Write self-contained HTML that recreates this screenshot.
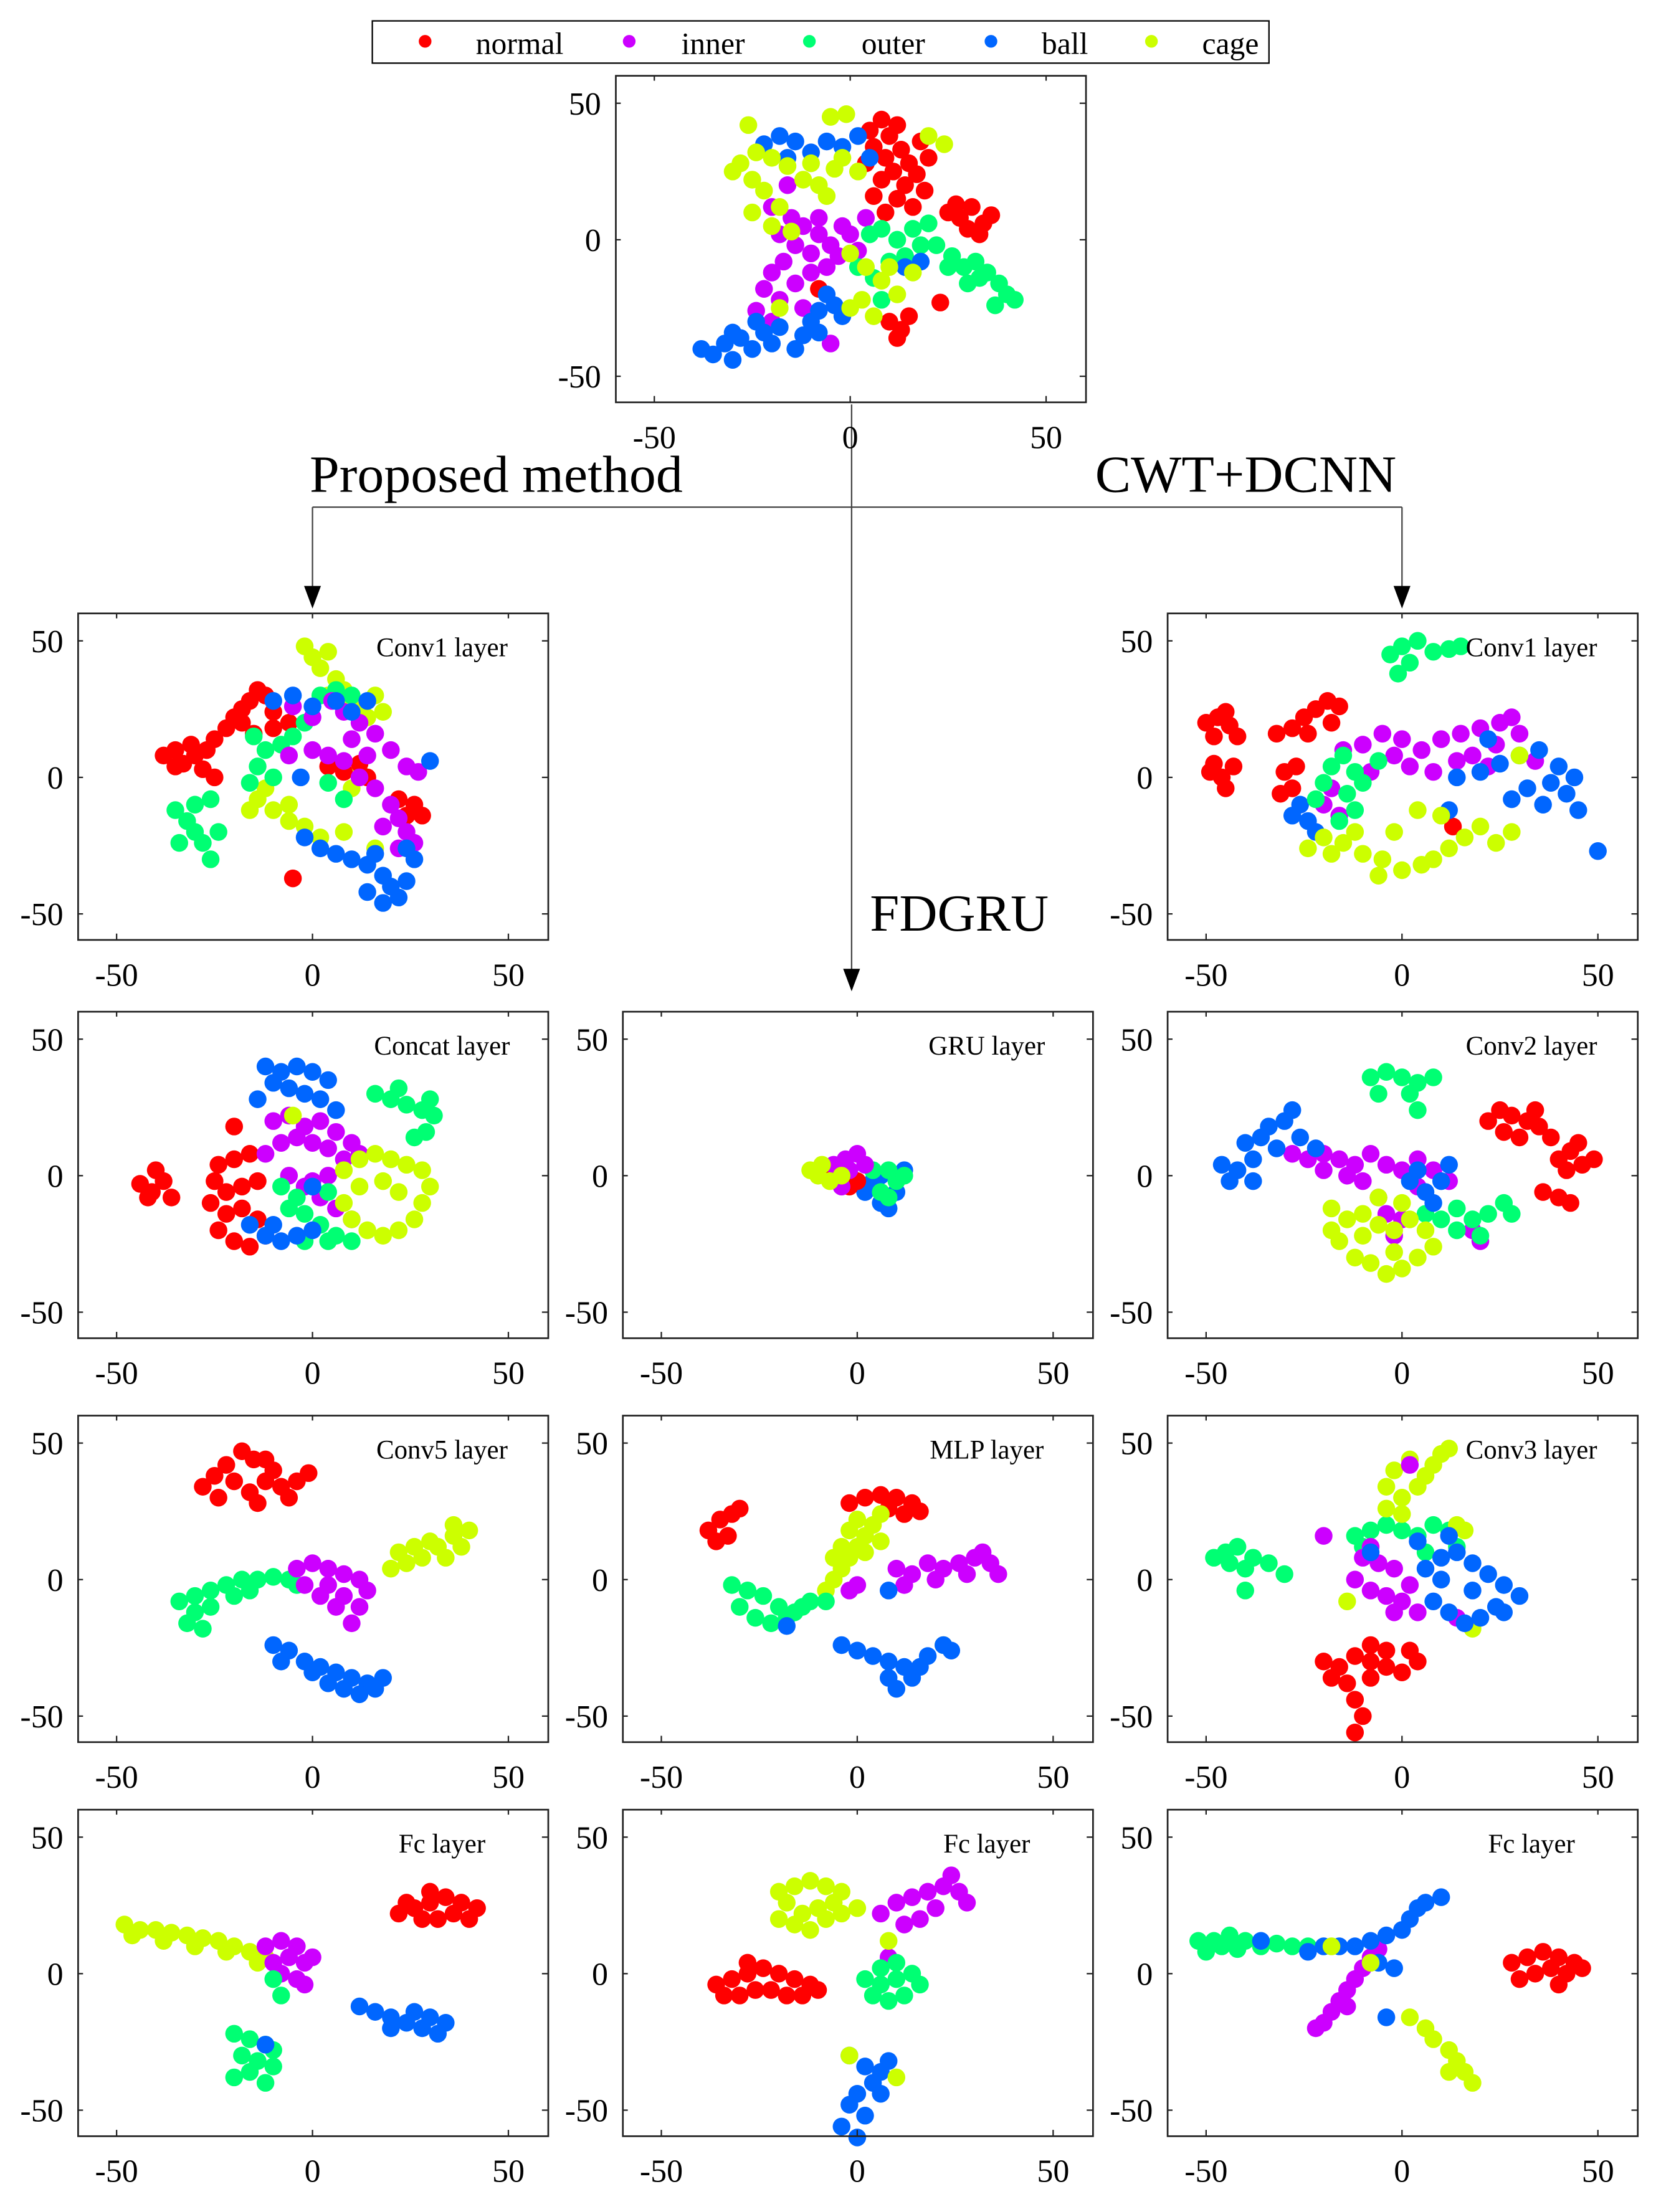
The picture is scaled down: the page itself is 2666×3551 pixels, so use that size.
<!DOCTYPE html>
<html><head><meta charset="utf-8"><style>
html,body{margin:0;padding:0;background:#fff;}
svg{display:block;}
text{font-family:"Liberation Serif","Times New Roman",serif;fill:#000;}
</style></head><body>
<svg id="fig" xmlns="http://www.w3.org/2000/svg" width="2666" height="3551" viewBox="0 0 1180 1571">
<rect x="0" y="0" width="1180" height="1571" fill="#fff"/>
<g>
<rect x="264.5" y="14.5" width="637" height="30" fill="#fff" stroke="#000" stroke-width="1"/>
<g><circle cx="302" cy="29" r="4.5" fill="#ff0000"/><text x="338" y="38" font-size="22">normal</text></g>
<g><circle cx="447" cy="29" r="4.5" fill="#cc00ff"/><text x="484" y="38" font-size="22">inner</text></g>
<g><circle cx="575" cy="29" r="4.5" fill="#00ff73"/><text x="612" y="38" font-size="22">outer</text></g>
<g><circle cx="704" cy="29" r="4.5" fill="#0066ff"/><text x="740" y="38" font-size="22">ball</text></g>
<g><circle cx="818" cy="29" r="4.5" fill="#ccff00"/><text x="854" y="38" font-size="22">cage</text></g>
</g>
<g stroke="#444" stroke-width="1" fill="none">
<line x1="605" y1="287" x2="605" y2="690"/>
<line x1="222" y1="360" x2="996" y2="360"/>
<line x1="222" y1="360" x2="222" y2="418"/>
<line x1="996" y1="360" x2="996" y2="418"/>
</g>
<g fill="#000">
<polygon points="216,416 228,416 222,432"/>
<polygon points="990,416 1002,416 996,432"/>
<polygon points="599,688 611,688 605,704"/>
</g>
<text x="220" y="349" font-size="37" textLength="265" lengthAdjust="spacingAndGlyphs">Proposed method</text>
<text x="778" y="349" font-size="37" textLength="214" lengthAdjust="spacingAndGlyphs">CWT+DCNN</text>
<text x="618" y="661" font-size="37" textLength="127" lengthAdjust="spacingAndGlyphs">FDGRU</text>
<g id="panels"></g>
</svg>
<script>
// ---- data (t-SNE coordinates, flat x,y pairs) ----
const top_normal=[5,40,8,44,10,38,12,42,6,34,9,30,13,33,15,28,11,25,8,22,14,20,17,24,19,18,12,15,16,12,9,10,6,16,20,30,18,36,4,28,25,10,28,8,31,12,34,6,36,9,30,4,33,2,27,13,10,-30,13,-33,15,-28,12,-36,23,-23,-8,-18];
const top_inner=[-20,12,-15,8,-12,5,-8,2,-5,-2,-10,-5,-14,-2,-17,-8,-20,-12,-22,-18,-18,-22,-14,-16,-10,-12,-6,-10,-3,-6,-18,2,-24,-26,-20,-30,-12,-25,-5,-38,-2,5,0,2,-8,8,2,-4,-16,20,4,8];
const top_outer=[5,2,8,4,12,0,16,4,20,6,18,-2,14,-6,10,-8,26,-6,29,-10,32,-8,35,-12,38,-16,40,-20,42,-22,37,-24,33,-14,30,-16,25,-10,22,-2,6,-14,2,-10,8,-22];
const top_ball=[-38,-40,-35,-42,-32,-38,-30,-44,-28,-36,-25,-40,-22,-34,-20,-38,-18,-32,-24,-30,-30,-34,-12,-35,-10,-30,-8,-26,-6,-20,-4,-24,-2,-28,-8,-34,-14,-40,-22,35,-18,38,-14,36,-10,32,-6,36,-2,34,2,38,5,30,-16,30,18,-8,14,-10];
const top_cage=[-28,28,-24,32,-20,30,-16,27,-12,22,-8,20,-4,26,-2,30,-10,28,-25,22,-30,25,-22,18,-18,12,-6,16,-26,42,-5,45,-1,46,2,25,-15,3,-20,5,-25,10,0,-5,4,-10,8,-15,12,-20,3,-22,0,-25,6,-28,10,-10,16,-12,-18,-25,24,35,20,38];

const pc1_normal=[-38,8,-35,10,-33,5,-30,8,-28,3,-35,4,-31,12,-27,10,-25,14,-22,18,-20,22,-18,25,-16,28,-14,32,-12,30,-18,20,-15,16,-10,18,-10,24,-6,20,4,4,8,2,12,5,14,0,22,-8,26,-10,28,-14,24,-14,-5,-37,-25,0];
const pc1_inner=[-5,26,0,22,5,28,8,24,12,20,16,16,20,10,24,4,27,2,0,10,4,8,8,6,12,0,16,-4,20,-10,22,-15,24,-20,26,-24,22,-26,18,-18,-6,8,14,8,10,14];
const pc1_outer=[-35,-12,-32,-16,-30,-20,-28,-24,-26,-30,-24,-20,-30,-10,-26,-8,-34,-24,-15,15,-12,10,-14,4,-10,0,-16,-2,-8,12,-5,15,-2,20,2,30,6,32,10,30,4,-2,8,-8];
const pc1_ball=[-2,-22,2,-26,6,-28,10,-30,14,-32,18,-36,20,-40,22,-44,18,-46,14,-42,24,-38,26,-30,24,-26,16,-28,-10,28,-5,30,0,26,6,28,10,24,14,28,30,6,-3,0];
const pc1_cage=[-2,48,0,44,2,40,4,46,6,36,8,32,10,28,12,26,14,22,16,30,18,24,4,30,-14,-8,-10,-12,-6,-16,-2,-18,2,-22,-12,-4,-16,-12,-6,-10,8,-20,16,-26,12,2,10,-4];

const cc1_normal=[-50,20,-47,22,-44,19,-42,15,-48,15,-45,24,-49,2,-46,0,-43,4,-45,-4,-48,5,-32,16,-28,18,-25,22,-22,25,-19,28,-16,26,-18,20,-24,16,-30,2,-28,-4,-31,-6,-27,4,13,-18];
const cc1_inner=[-15,10,-10,12,-5,16,0,14,5,10,10,14,15,16,20,18,25,20,28,22,30,16,-2,8,2,4,8,2,14,6,18,8,24,12,-18,-4,-20,-10,-16,-14,-8,2,34,6,22,4];
const cc1_outer=[-3,45,0,48,4,50,8,46,12,47,15,48,-1,38,2,42,-20,-2,-18,4,-15,8,-12,2,-14,-6,-10,-2,-6,6,-22,-8,-16,-16,-12,-12];
const cc1_ball=[20,2,25,5,30,8,35,10,40,4,44,0,38,-2,32,-4,28,-8,36,-10,42,-6,45,-12,22,14,50,-27,-26,-10,-24,-16,-28,-14,-22,-20,12,-12,14,0];
const cc1_cage=[-20,-22,-15,-24,-10,-28,-5,-30,0,-34,5,-32,8,-30,12,-26,16,-22,20,-18,24,-24,28,-20,-12,-20,-2,-20,4,-12,10,-14,30,8,-24,-26,-18,-28,-6,-36];

const pcat_normal=[-44,-3,-41,-6,-38,-2,-36,-8,-40,2,-42,-8,-24,4,-20,6,-16,8,-25,-2,-22,-6,-18,-4,-14,-2,-26,-10,-22,-14,-18,-12,-14,-16,-24,-20,-20,-24,-16,-26,-12,-22,-20,18];
const pcat_inner=[-10,20,-6,22,-2,18,2,20,6,16,10,12,12,8,8,6,4,10,0,12,-4,14,-8,12,-12,8,-6,0,-2,-4,2,-8,6,-12,10,-16,0,-2,4,0];
const pcat_outer=[16,30,20,28,24,26,28,24,31,22,29,16,26,14,30,28,22,32,-8,-4,-4,-8,-2,-14,2,-18,6,-22,10,-24,-6,-12,4,-24,-2,-24,4,-6];
const pcat_ball=[-12,40,-8,38,-4,40,0,38,4,35,-10,34,-6,32,-2,30,2,28,6,24,-14,28,-16,-18,-12,-22,-8,-24,-4,-22,0,-20,-10,-18,0,-4];
const pcat_cage=[8,2,12,6,16,8,20,6,24,4,28,2,30,-4,28,-10,26,-16,22,-20,18,-22,14,-20,10,-16,8,-10,12,-4,18,-2,22,-6,-5,22];

const gru_normal=[-8,0,-5,-2,-2,-4,0,-2,-4,2];
const gru_inner=[-6,4,-3,6,0,8,-2,2,2,4,-4,-4];
const gru_outer=[6,-6,8,-8,10,-2,8,2,12,0,4,2];
const gru_ball=[4,-2,6,-10,8,-12,10,-6,12,2,2,-6,6,0];
const gru_cage=[-12,2,-9,4,-10,0,-7,-2,-4,0];

const cc2_normal=[22,20,25,24,28,22,32,20,35,18,30,14,26,16,34,24,38,14,40,6,43,9,46,4,49,6,42,2,45,12,36,-6,40,-8,43,-10];
const cc2_inner=[-28,8,-24,6,-20,8,-16,6,-12,4,-8,8,-4,4,0,2,4,6,8,2,12,-2,-10,-2,-6,-8,-4,-14,0,-16,-2,-22,4,-4,18,-20,20,-24,-14,0,-20,2];
const cc2_outer=[-8,36,-4,38,0,36,4,34,8,36,-6,30,2,30,4,24,6,-14,10,-16,14,-12,18,-16,22,-14,26,-10,28,-14,20,-22,14,-20];
const cc2_ball=[-46,4,-42,2,-38,6,-40,12,-36,14,-32,10,-34,18,-30,20,-28,24,-44,-2,-38,-2,-26,14,-22,10,2,-2,6,-6,10,-2,12,4,4,2,8,-10];
const cc2_cage=[-18,-12,-14,-16,-10,-14,-6,-18,-2,-20,2,-16,6,-20,8,-26,4,-30,0,-34,-4,-36,-8,-32,-12,-30,-16,-24,-18,-20,-10,-22,-2,-28,0,-10,-6,-8];

const pc5_normal=[-28,34,-25,38,-22,42,-18,47,-15,44,-20,36,-16,32,-12,36,-10,40,-8,34,-6,30,-14,28,-24,30,-4,36,-12,44,-1,39];
const pc5_outer=[-34,-8,-30,-6,-26,-4,-22,-2,-18,0,-14,0,-10,1,-6,0,-4,-2,-30,-12,-32,-16,-28,-18,-26,-10,-20,-6,-16,-4];
const pc5_inner=[-4,4,0,6,4,4,8,2,12,0,14,-4,12,-10,10,-16,6,-10,2,-6,-2,-2,4,-2,8,-6];
const pc5_ball=[-10,-24,-6,-26,-2,-30,2,-32,6,-34,10,-36,14,-38,18,-36,12,-42,8,-40,4,-38,0,-34,-8,-30,16,-40];
const pc5_cage=[20,4,24,6,28,8,32,12,36,16,40,18,38,12,34,8,30,14,26,12,36,20,22,10];

const mlp_normal=[-38,18,-35,22,-32,24,-30,26,-36,14,-33,16,-2,28,2,30,6,31,10,30,14,28,16,25,8,26,12,24];
const mlp_cage=[-8,-4,-6,0,-4,4,-2,8,0,12,2,16,4,20,6,24,-4,12,-2,18,0,22,-6,8,2,10,6,14,22,-24];
const mlp_inner=[10,4,14,2,18,6,22,4,26,6,30,8,34,6,36,2,28,2,20,0,12,-2,32,10,-2,-4,0,-2];
const mlp_outer=[-32,-2,-28,-4,-24,-6,-20,-10,-16,-12,-12,-8,-8,-8,-30,-10,-26,-14,-22,-16,-18,-14,-14,-10];
const mlp_ball=[-4,-24,0,-26,4,-28,8,-30,12,-32,14,-36,10,-40,8,-36,18,-28,22,-24,24,-26,16,-32,-18,-17,8,-4];

const cc3_normal=[-20,-30,-16,-32,-12,-28,-8,-30,-4,-32,0,-34,4,-30,2,-26,-4,-26,-8,-36,-14,-38,-18,-36,-12,-44,-10,-50,-12,-56,-8,-24];
const cc3_outer=[-48,8,-45,10,-42,12,-38,8,-34,6,-40,4,-44,6,-30,2,-40,-4,-12,16,-8,18,-4,20,0,18,4,16,8,20,12,18,-10,12,14,12,6,10];
const cc3_inner=[-12,0,-8,-4,-4,-6,0,-8,2,-2,-2,4,-6,6,-10,8,4,-12,-2,-12,-20,16,-8,12,2,42,14,-14];
const cc3_ball=[6,4,10,8,14,10,18,6,22,2,26,-2,30,-6,24,-10,20,-14,16,-16,12,-12,8,-8,10,0,18,-4,26,-12,4,14,12,16,-8,10];
const cc3_cage=[-4,26,0,30,4,34,6,38,8,42,10,46,12,48,2,44,-2,40,-4,34,0,24,14,20,16,18,-14,-8,18,-18];

const pfc_cage=[-48,18,-44,16,-40,16,-36,15,-32,14,-28,13,-24,12,-20,10,-16,8,-12,6,-46,14,-38,12,-30,10,-22,8,-14,4];
const pfc_inner=[-12,10,-8,12,-4,10,-2,4,-4,-2,-8,0,-10,4,-6,6,0,6,-2,-4];
const pfc_normal=[22,22,26,24,30,26,34,28,38,26,42,24,40,20,36,22,32,20,28,20,24,26,30,30];
const pfc_outer=[-20,-22,-16,-24,-12,-26,-18,-30,-14,-32,-10,-34,-16,-36,-20,-38,-12,-40,-10,-28,-8,-8,-10,-2];
const pfc_ball=[12,-12,16,-14,20,-16,24,-18,28,-20,32,-22,34,-18,26,-14,20,-20,30,-16,-12,-26];

const ffc_cage=[-20,30,-16,32,-12,34,-8,32,-4,30,-6,26,-10,24,-14,22,-18,26,-16,18,-12,16,-8,20,-4,22,-20,20,0,24];
const ffc_normal=[-36,-4,-32,-2,-28,0,-24,2,-20,0,-16,-2,-12,-4,-34,-8,-30,-8,-26,-6,-22,-6,-18,-8,-14,-8,-28,4,-10,-6];
const ffc_inner=[6,22,10,26,14,28,18,30,22,32,26,30,28,26,20,24,16,20,12,18,24,36,8,6,6,-4];
const ffc_outer=[2,-2,6,-4,10,-2,14,0,16,-4,12,-8,8,-10,4,-8,10,4,6,2];
const ffc_ball=[-2,-30,2,-34,6,-36,4,-40,0,-44,-2,-48,2,-52,-4,-56,0,-60,6,-44,8,-32];
const ffc_cage2=[-2,-30,10,-38,8,12];

const cfc_outer=[-52,12,-48,12,-44,14,-40,12,-36,10,-32,11,-28,10,-24,10,-50,8,-46,10,-42,9];
const cfc_ball=[-20,10,-16,10,-12,10,-8,12,-4,14,0,16,2,20,4,24,6,26,10,28,-6,4,-2,2,-24,8,-4,-16,-36,12];
const cfc_inner=[-22,-20,-20,-18,-18,-14,-16,-10,-14,-6,-12,-2,-10,2,-8,6,-6,9,-14,-12];
const cfc_normal=[28,4,32,6,36,8,40,6,44,4,46,2,42,0,38,2,34,0,30,-2,40,-4];
const cfc_cage=[2,-16,6,-20,8,-24,12,-28,14,-32,16,-36,18,-40,12,-36,-8,4,-18,10];

const ticks=[-50,0,50];
const tickLabels=["-50","0","50"];

const COL={normal:"#ff0000",inner:"#cc00ff",outer:"#00ff73",ball:"#0066ff",cage:"#ccff00"};
const NS="http://www.w3.org/2000/svg";
const host=document.getElementById("panels");

function mk(tag,attrs,parent){const e=document.createElementNS(NS,tag);for(const k in attrs)e.setAttribute(k,attrs[k]);parent.appendChild(e);return e;}

function panel(name,L,T,title,series){
  const W=334,H=232;
  const sx=v=>L+W/2+v*(W/120);
  const sy=v=>T+117-v*1.94;
  const g=mk("g",{},host);
  
  
  const pts=mk("g",{},g);
  
  
  series.forEach(([cls,arr])=>{
    for(let i=0;i<arr.length;i+=2){
      const c=mk("circle",{cx:sx(arr[i]),cy:sy(arr[i+1]),r:6.3,fill:COL[cls]},pts);
      
      
    }
  });
  const box=mk("rect",{x:L+0.5,y:T+0.5,width:W,height:H,fill:"none",stroke:"#222","stroke-width":1.2},g);
  
  
  ticks.forEach((t,i)=>{
    const x=sx(t),y=sy(t);
    mk("line",{x1:x,y1:T+H,x2:x,y2:T+H-4,stroke:"#222"},g);
    mk("line",{x1:x,y1:T,x2:x,y2:T+4,stroke:"#222"},g);
    mk("line",{x1:L,y1:y,x2:L+4,y2:y,stroke:"#222"},g);
    mk("line",{x1:L+W,y1:y,x2:L+W-4,y2:y,stroke:"#222"},g);
    const xt=mk("text",{x:x,y:T+H+33,"text-anchor":"middle","font-size":23},g);
    xt.textContent=tickLabels[i];
    
    
    const yt=mk("text",{x:L-10,y:y+8,"text-anchor":"end","font-size":23},g);
    yt.textContent=tickLabels[i];
    
    
  });
  if(title){
    const tt=mk("text",{x:L+259,y:T+31,"text-anchor":"middle","font-size":19},g);
    tt.textContent=title;
    
    
  }
}
panel("raw-signal-plot",437,53,null,[["normal",top_normal],["inner",top_inner],["outer",top_outer],["ball",top_ball],["cage",top_cage]]);
panel("proposed-conv1-plot",55,435,"Conv1 layer",[["cage",pc1_cage],["normal",pc1_normal],["outer",pc1_outer],["inner",pc1_inner],["ball",pc1_ball]]);
panel("cwt-conv1-plot",829,435,"Conv1 layer",[["normal",cc1_normal],["inner",cc1_inner],["ball",cc1_ball],["outer",cc1_outer],["cage",cc1_cage]]);
panel("proposed-concat-plot",55,718,"Concat layer",[["normal",pcat_normal],["inner",pcat_inner],["outer",pcat_outer],["ball",pcat_ball],["cage",pcat_cage]]);
panel("fdgru-gru-plot",442,718,"GRU layer",[["ball",gru_ball],["outer",gru_outer],["normal",gru_normal],["inner",gru_inner],["cage",gru_cage]]);
panel("cwt-conv2-plot",829,718,"Conv2 layer",[["normal",cc2_normal],["inner",cc2_inner],["outer",cc2_outer],["ball",cc2_ball],["cage",cc2_cage]]);
panel("proposed-conv5-plot",55,1005,"Conv5 layer",[["normal",pc5_normal],["outer",pc5_outer],["inner",pc5_inner],["ball",pc5_ball],["cage",pc5_cage]]);
panel("fdgru-mlp-plot",442,1005,"MLP layer",[["normal",mlp_normal],["inner",mlp_inner],["cage",mlp_cage],["outer",mlp_outer],["ball",mlp_ball]]);
panel("cwt-conv3-plot",829,1005,"Conv3 layer",[["normal",cc3_normal],["outer",cc3_outer],["cage",cc3_cage],["inner",cc3_inner],["ball",cc3_ball]]);
panel("proposed-fc-plot",55,1285,"Fc layer",[["cage",pfc_cage],["inner",pfc_inner],["normal",pfc_normal],["outer",pfc_outer],["ball",pfc_ball]]);
panel("fdgru-fc-plot",442,1285,"Fc layer",[["normal",ffc_normal],["cage",ffc_cage],["inner",ffc_inner],["outer",ffc_outer],["ball",ffc_ball],["cage",ffc_cage2]]);
panel("cwt-fc-plot",829,1285,"Fc layer",[["outer",cfc_outer],["inner",cfc_inner],["ball",cfc_ball],["normal",cfc_normal],["cage",cfc_cage]]);
</script>
</body></html>
